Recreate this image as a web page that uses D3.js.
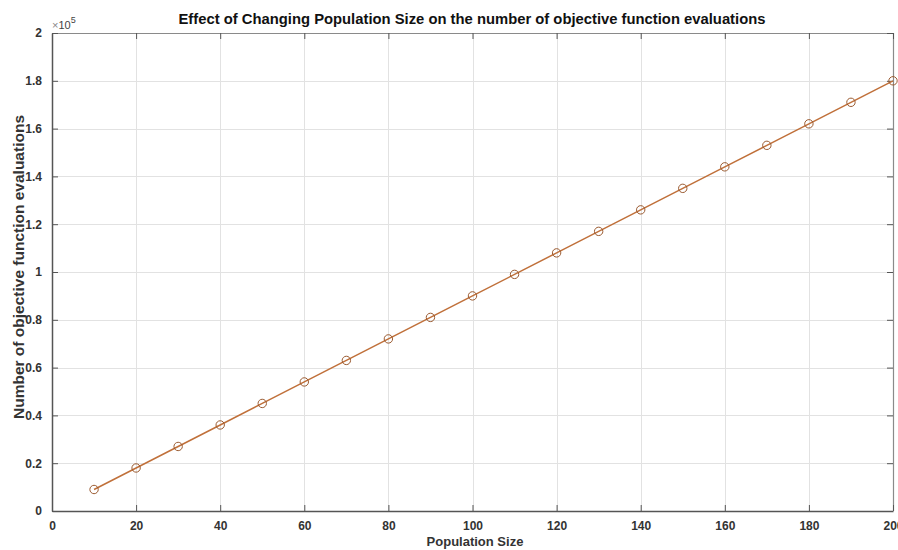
<!DOCTYPE html>
<html>
<head>
<meta charset="utf-8">
<script src="https://cdn.jsdelivr.net/npm/d3@7"></script>
<style>
  html, body { margin: 0; padding: 0; background: #fff; }
  svg { display: block; font-family: "Liberation Sans", Arial, sans-serif; }
</style>
</head>
<body>
<svg id="chart" width="898" height="550"></svg>
<script>
// Population sizes and the resulting number of objective function evaluations
const populationSize = [10, 20, 30, 40, 50, 60, 70, 80, 90, 100,
                        110, 120, 130, 140, 150, 160, 170, 180, 190, 200];
const evaluations = [9000, 18000, 27000, 36000, 45000, 54000, 63000, 72000, 81000, 90000,
                     99000, 108000, 117000, 126000, 135000, 144000, 153000, 162000, 171000, 180000];
const xTicks = [0, 20, 40, 60, 80, 100, 120, 140, 160, 180, 200];
const yTicks = [0, 20000, 40000, 60000, 80000, 100000, 120000, 140000, 160000, 180000, 200000];

const svg = d3.select("#chart");
const plotL = 52, plotR = 893, plotT = 33, plotB = 511;

const x = d3.scaleLinear().domain([0, 200]).range([plotL, plotR]);
const y = d3.scaleLinear().domain([0, 200000]).range([plotB, plotT]);

// grid
const grid = svg.append("g").attr("stroke", "#e2e2e2").attr("stroke-width", 1);
xTicks.forEach(t => grid.append("line")
  .attr("x1", Math.round(x(t)) + 0.5).attr("x2", Math.round(x(t)) + 0.5)
  .attr("y1", plotT).attr("y2", plotB));
yTicks.forEach(t => grid.append("line")
  .attr("x1", plotL).attr("x2", plotR)
  .attr("y1", Math.round(y(t)) + 0.5).attr("y2", Math.round(y(t)) + 0.5));

// box (top/right) in lighter grey
svg.append("line").attr("x1", plotL).attr("x2", plotR).attr("y1", plotT + 0.5).attr("y2", plotT + 0.5)
  .attr("stroke", "#8a8a8a").attr("stroke-width", 1.2);
svg.append("line").attr("x1", plotR + 0.5).attr("x2", plotR + 0.5).attr("y1", plotT).attr("y2", plotB)
  .attr("stroke", "#8a8a8a").attr("stroke-width", 1.2);

// axes with inward ticks
const fmtY = d => d === 0 ? "0" : String(+(d / 100000).toFixed(1));
const xAxis = svg.append("g").attr("transform", `translate(0,${plotB})`)
  .call(d3.axisBottom(x).tickValues(xTicks).tickSizeInner(-6).tickSizeOuter(0).tickPadding(10));
const yAxis = svg.append("g").attr("transform", `translate(${plotL},0)`)
  .call(d3.axisLeft(y).tickValues(yTicks).tickFormat(fmtY).tickSizeInner(-6).tickSizeOuter(0).tickPadding(10));
// mirrored ticks on top and right
svg.append("g").attr("transform", `translate(0,${plotT})`)
  .call(d3.axisTop(x).tickValues(xTicks).tickSizeInner(-6).tickSizeOuter(0).tickFormat(""))
  .call(g => g.select(".domain").remove());
svg.append("g").attr("transform", `translate(${plotR},0)`)
  .call(d3.axisRight(y).tickValues(yTicks).tickSizeInner(-6).tickSizeOuter(0).tickFormat(""))
  .call(g => g.select(".domain").remove());

svg.selectAll(".tick line").attr("stroke", "#555");
[xAxis, yAxis].forEach(a => {
  a.select(".domain").attr("stroke", "#555").attr("stroke-width", 1.5);
  a.selectAll("text").attr("font-size", 12).attr("font-weight", "bold").attr("fill", "#333");
});

// exponent label
const ex = svg.append("text").attr("x", 52).attr("y", 29).attr("fill", "#444")
  .attr("font-size", 11);
ex.append("tspan").attr("fill", "#888").text("\u00d7");
ex.append("tspan").text("10");
ex.append("tspan").attr("dy", -6).attr("font-size", 9).text("5");

// line and markers
const color = "#c0703a";
const pts = populationSize.map((p, i) => [p, evaluations[i]]);
svg.append("path").datum(pts)
  .attr("fill", "none").attr("stroke", color).attr("stroke-width", 1.5)
  .attr("d", d3.line().x(d => x(d[0])).y(d => y(d[1])));
svg.append("g").selectAll("circle").data(pts)
  .join("circle")
  .attr("cx", d => x(d[0])).attr("cy", d => y(d[1])).attr("r", 4.2)
  .attr("fill", "none").attr("stroke", "#9a5a30").attr("stroke-width", 1);

// title and axis labels
svg.append("text").attr("x", 472).attr("y", 24).attr("text-anchor", "middle")
  .attr("font-size", 14.8).attr("font-weight", "bold").attr("fill", "#111")
  .text("Effect of Changing Population Size on the number of objective function evaluations");
svg.append("text").attr("x", 475).attr("y", 546).attr("text-anchor", "middle")
  .attr("font-size", 13).attr("font-weight", "bold").attr("fill", "#333")
  .text("Population Size");
svg.append("text").attr("transform", `translate(24,267) rotate(-90)`)
  .attr("text-anchor", "middle")
  .attr("font-size", 15.5).attr("font-weight", "bold").attr("fill", "#333")
  .text("Number of objective function evaluations");
</script>
</body>
</html>
